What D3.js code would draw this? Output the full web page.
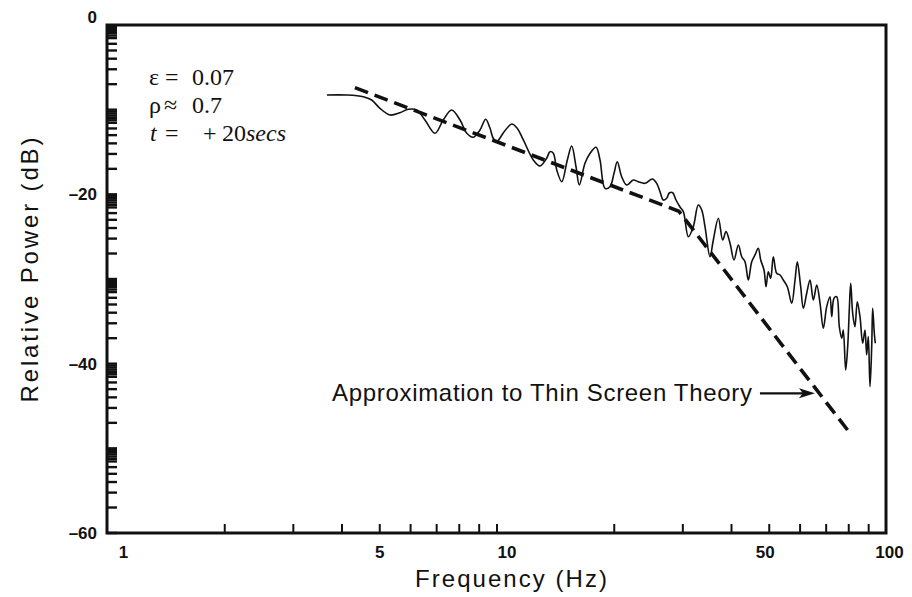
<!DOCTYPE html>
<html>
<head>
<meta charset="utf-8">
<script src="https://cdn.jsdelivr.net/npm/d3@7"></script>
<style>
  html, body { margin: 0; padding: 0; background: #fff; }
  svg { display: block; }
</style>
</head>
<body>
<svg id="chart" width="912" height="597"></svg>
<script>
// Measured power spectrum (frequency in Hz, relative power in dB)
const freqHz = [3.67, 4.13, 4.55, 4.78, 5.02, 5.33, 5.65, 5.94, 6.24, 6.55,
  6.95, 7.30, 7.67, 8.06, 8.39, 8.72, 9.07, 9.38, 9.62, 9.81,
  10.01, 10.45, 10.94, 11.29, 11.72, 12.43, 12.93, 13.45, 13.72, 13.99,
  14.28, 14.71, 15.20, 15.60, 16.00, 16.32, 16.87, 17.39, 18.01, 18.44,
  18.99, 19.56, 20.03, 20.42, 20.96, 21.59, 22.45, 23.12, 24.06, 25.12,
  25.78, 26.29, 26.81, 27.35, 27.77, 28.34, 28.90, 29.59, 30.18, 31.08,
  32.01, 32.97, 33.64, 34.30, 35.33, 36.03, 37.12, 38.08, 38.84, 39.77,
  40.72, 41.77, 42.62, 43.45, 44.31, 45.21, 46.10, 47.00, 47.68, 48.62,
  49.20, 49.87, 50.58, 51.37, 52.41, 53.45, 54.49, 55.80, 57.27, 58.40,
  59.20, 60.39, 61.34, 62.58, 63.82, 65.08, 66.40, 67.71, 69.03, 70.43,
  71.82, 72.55, 73.54, 74.72, 75.88, 76.96, 77.69, 78.79, 79.73, 80.49,
  81.16, 82.12, 83.24, 84.38, 85.74, 87.13, 88.32, 89.20, 90.07, 90.97,
  91.90, 92.43, 93.32, 93.86];
const powerDb = [-8.27, -8.27, -8.47, -8.86, -9.84, -10.63, -10.36, -9.96, -10.04, -11.22,
  -12.79, -11.22, -10.04, -11.22, -12.79, -13.26, -12.40, -11.14, -12.17, -13.38,
  -13.78, -12.64, -11.69, -12.17, -13.58, -15.94, -16.65, -15.74, -14.96, -15.15,
  -17.13, -18.51, -15.94, -14.29, -16.74, -18.90, -16.33, -15.15, -14.44, -15.94,
  -19.29, -19.10, -17.52, -16.15, -17.92, -18.90, -18.31, -18.51, -18.70, -18.19,
  -18.70, -19.69, -20.67, -20.47, -19.84, -19.81, -20.67, -21.50, -22.05, -25.00,
  -23.82, -21.26, -21.85, -23.82, -27.37, -25.39, -22.83, -25.39, -24.41, -25.78,
  -27.75, -25.98, -27.37, -27.96, -30.12, -27.96, -27.16, -26.37, -27.75, -28.94,
  -30.91, -29.14, -29.92, -27.37, -29.33, -29.53, -30.12, -30.91, -32.87, -30.12,
  -27.96, -30.91, -33.46, -31.69, -30.12, -32.48, -30.71, -32.87, -35.82, -33.27,
  -32.09, -34.45, -32.28, -32.09, -35.63, -37.00, -36.02, -40.75, -37.99, -33.66,
  -30.51, -34.05, -35.63, -32.68, -34.45, -37.59, -36.02, -38.97, -36.81, -42.72,
  -37.99, -33.46, -36.41, -37.59];

// Thin screen theory approximation (two straight segments on log axis)
const fitFreq = [4.33, 29.4, 80.8];
const fitDb = [-7.4, -22.0, -48.2];

// Axis labels
const xTickLabels = [1, 5, 10, 50, 100];
const yTickLabels = [0, -20, -40, -60];
const xMinorTicks = [2, 3, 4, 5, 6, 7, 8, 9, 10, 20, 30, 40, 50, 60, 70, 80, 90];

// Arrow target on the theory curve
const arrowTip = { f: 65.7, db: -43.5 };

const svg = d3.select("#chart");

const x = d3.scaleLog().domain([1, 100]).range([107, 886]);
const y = d3.scaleLinear().domain([-60, 0]).range([533, 25]);

const ink = "#111";
const sans = "'Liberation Sans', Arial, sans-serif";
const serif = "'Liberation Serif', 'Times New Roman', serif";

// Ruled ticks on the power axis: a logarithmic pattern repeated in every 10 dB band
const yRuleTicks = [];
for (let lo = -60; lo < 0; lo += 10) {
  [1, 2, 3, 4, 5, 6, 7, 7.5, 8, 8.5, 9, 9.5].forEach(k => yRuleTicks.push(lo + 10 * Math.log10(k)));
}
svg.append("g").attr("class", "y-rules").selectAll("line")
  .data(yRuleTicks)
  .join("line")
  .attr("x1", x(1)).attr("x2", x(1) + 10)
  .attr("y1", d => y(d)).attr("y2", d => y(d))
  .attr("stroke", ink).attr("stroke-width", 2.4);

// minor ticks on the frequency axis (pointing inward)
const gx = svg.append("g").attr("transform", `translate(0,${y(-60)})`)
  .call(d3.axisBottom(x).tickValues(xMinorTicks).tickSize(-9).tickFormat(""));
gx.select(".domain").remove();
gx.selectAll("line").attr("stroke", ink).attr("stroke-width", 2);

// frequency tick labels
const labelShift = { 1: 16, 5: 0, 10: 10, 50: -4, 100: 3 };
const gxl = svg.append("g").attr("transform", `translate(0,${y(-60)})`)
  .call(d3.axisBottom(x).tickValues(xTickLabels).tickSize(0).tickPadding(13)
    .tickFormat(d3.format("d")));
gxl.select(".domain").remove();
gxl.selectAll("text")
  .attr("dx", d => labelShift[d])
  .attr("fill", ink)
  .style("font-family", sans)
  .style("font-weight", "bold")
  .style("font-size", "17px");

// power tick labels
const gyl = svg.append("g").attr("transform", `translate(${x(1)},0)`)
  .call(d3.axisLeft(y).tickValues(yTickLabels).tickSize(0).tickPadding(10)
    .tickFormat(d => d === 0 ? "0" : "\u2013" + Math.abs(d)));
gyl.select(".domain").remove();
gyl.selectAll("text")
  .attr("fill", ink)
  .attr("dy", d => d === 0 ? "-0.15em" : "0.32em")
  .style("font-family", sans)
  .style("font-weight", "bold")
  .style("font-size", "17px");

// plot frame
svg.append("rect")
  .attr("x", x(1)).attr("y", y(0))
  .attr("width", x(100) - x(1)).attr("height", y(-60) - y(0))
  .attr("fill", "none").attr("stroke", ink).attr("stroke-width", 3);

// measured spectrum
const smooth = d3.line().x(d => x(d[0])).y(d => y(d[1])).curve(d3.curveCatmullRom.alpha(0.5));
svg.append("path")
  .datum(freqHz.map((f, i) => [f, powerDb[i]]))
  .attr("d", smooth)
  .attr("fill", "none").attr("stroke", ink).attr("stroke-width", 1.6)
  .attr("stroke-linejoin", "round");

// theory approximation (heavy dashed)
const straight = d3.line().x(d => x(d[0])).y(d => y(d[1]));
svg.append("path")
  .datum(fitFreq.map((f, i) => [f, fitDb[i]]))
  .attr("d", straight)
  .attr("fill", "none").attr("stroke", ink).attr("stroke-width", 3.6)
  .attr("stroke-dasharray", "14,7");

// parameter block
const params = svg.append("g").style("font-family", serif).style("font-size", "24px").attr("fill", ink);
const l1 = params.append("text").attr("y", 85);
l1.append("tspan").attr("x", 149).text("\u03b5");
l1.append("tspan").attr("x", 165).text("=");
l1.append("tspan").attr("x", 192).text("0.07");
const l2 = params.append("text").attr("y", 113);
l2.append("tspan").attr("x", 149).text("\u03c1");
l2.append("tspan").attr("x", 164).text("\u2248");
l2.append("tspan").attr("x", 192).text("0.7");
const l3 = params.append("text").attr("y", 141);
l3.append("tspan").attr("x", 150).style("font-style", "italic").text("t");
l3.append("tspan").attr("x", 165).text("=");
l3.append("tspan").attr("x", 203).text("+");
l3.append("tspan").attr("x", 222).text("20");
l3.append("tspan").style("font-style", "italic").text("secs");

// annotation with arrow
const tipX = x(arrowTip.f), tipY = y(arrowTip.db);
svg.append("text")
  .attr("x", 332).attr("y", tipY + 8)
  .attr("textLength", 420).attr("lengthAdjust", "spacing")
  .attr("fill", ink)
  .style("font-family", sans)
  .style("font-size", "24px")
  .text("Approximation to Thin Screen Theory");
svg.append("line")
  .attr("x1", tipX - 55).attr("y1", tipY)
  .attr("x2", tipX - 10).attr("y2", tipY)
  .attr("stroke", ink).attr("stroke-width", 2.2);
svg.append("path")
  .attr("d", `M${tipX},${tipY} L${tipX - 16},${tipY - 5} L${tipX - 12},${tipY} L${tipX - 16},${tipY + 5} Z`)
  .attr("fill", ink);

// axis titles
svg.append("text")
  .attr("x", 511).attr("y", 587)
  .attr("text-anchor", "middle")
  .attr("textLength", 192).attr("lengthAdjust", "spacing")
  .attr("fill", ink)
  .style("font-family", sans).style("font-size", "24px")
  .text("Frequency (Hz)");
svg.append("text")
  .attr("transform", "translate(38,270) rotate(-90)")
  .attr("text-anchor", "middle")
  .attr("textLength", 265).attr("lengthAdjust", "spacing")
  .attr("fill", ink)
  .style("font-family", sans).style("font-size", "24px")
  .text("Relative Power (dB)");
</script>
</body>
</html>
